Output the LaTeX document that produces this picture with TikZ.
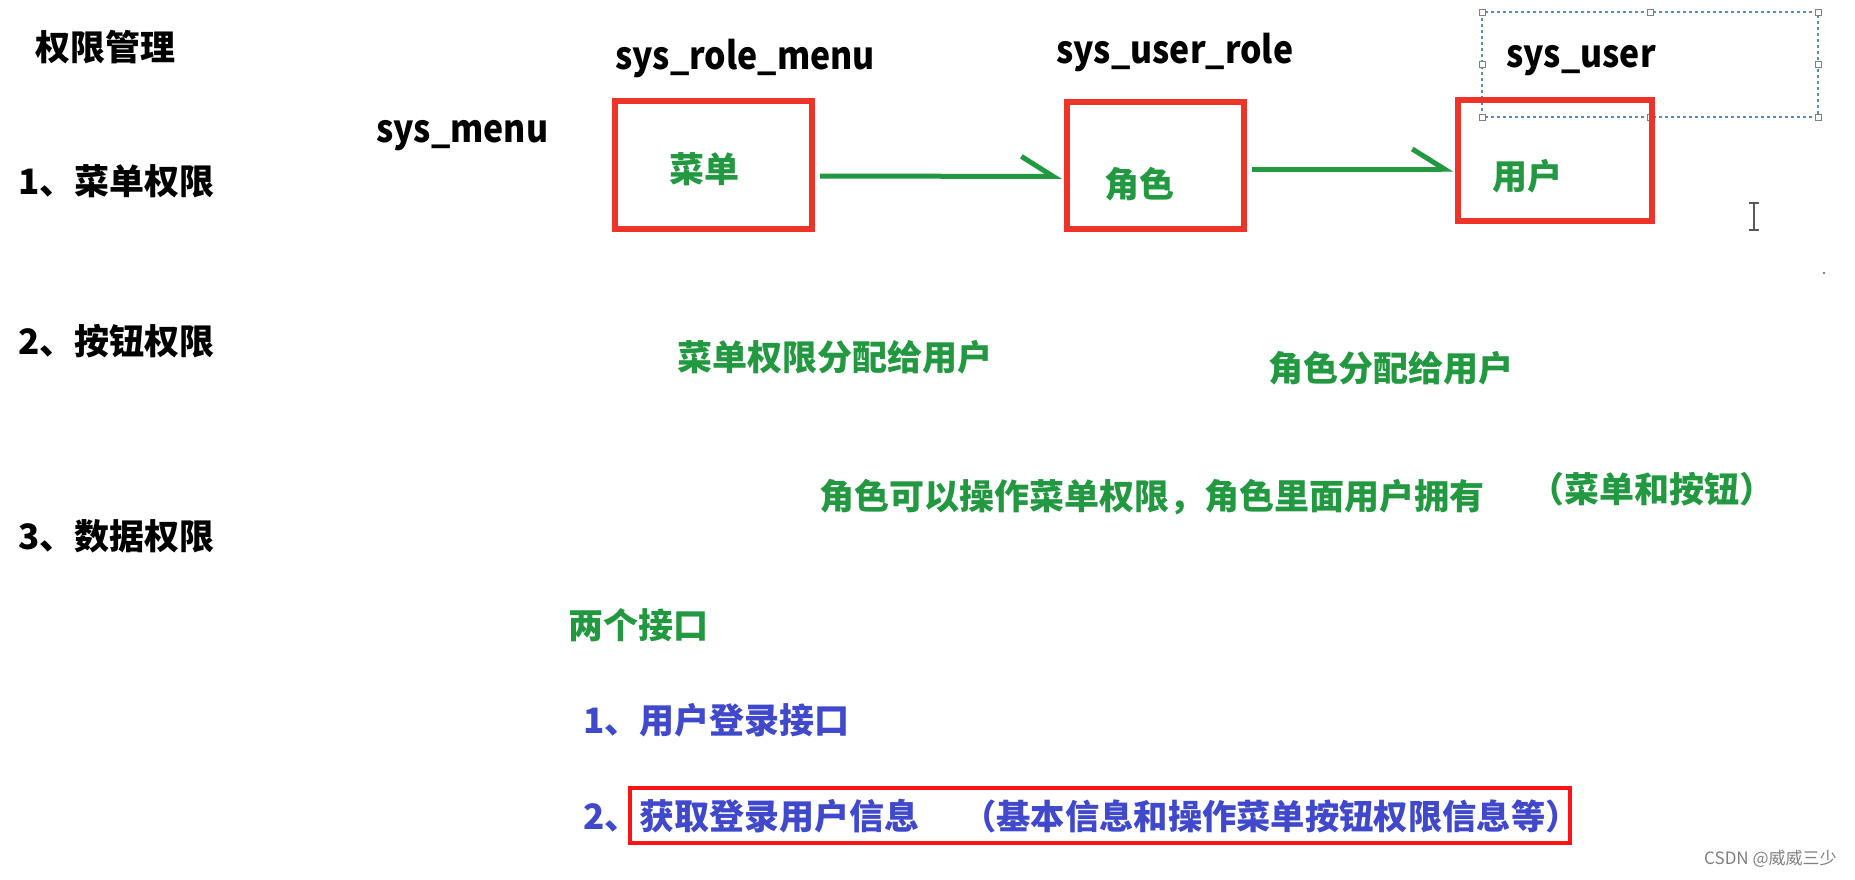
\documentclass[tikz,border=0pt]{standalone}
\usepackage{fontspec}
\setmainfont{Noto Sans CJK SC}
\newfontfamily\tblfont{Noto Sans CJK SC}[FakeStretch=0.89]
\usetikzlibrary{arrows.meta}
\definecolor{boxred}{RGB}{238,52,40}
\definecolor{hotred}{RGB}{250,20,20}
\definecolor{linkgreen}{RGB}{34,152,64}
\definecolor{textblue}{RGB}{64,72,204}
\definecolor{selblue}{RGB}{80,140,200}
\begin{document}
\begin{tikzpicture}[x=1pt,y=-1pt,
  lbl/.style={anchor=west,inner sep=0pt,font=\fontsize{35}{40}\selectfont\bfseries},
  tbl/.style={anchor=west,inner sep=0pt,font=\tblfont\fontsize{38}{44}\selectfont\bfseries},
  note/.style={lbl,text=linkgreen},
  api/.style={lbl,text=textblue},
  tablebox/.style={draw=boxred,line width=6pt,inner sep=0pt},
  flow/.style={draw=linkgreen,line width=5pt,-{Straight Barb[left,length=32pt,width=40pt]}},
  handle/.style={draw=gray,fill=white,line width=0.8pt,minimum size=6pt,inner sep=0pt}]
  \useasboundingbox[fill=white] (0,0) rectangle (1855,880);

  % left column
  \node[lbl] (title) at (35,47) {权限管理};
  \node[lbl] (menuperm) at (18,181) {1、菜单权限};
  \node[lbl] (btnperm) at (18,341) {2、按钮权限};
  \node[lbl] (dataperm) at (18,536) {3、数据权限};

  % tables
  \node[tbl] (tmenu) at (376,136) {sys\_menu};
  \node[tbl] (trolemenu) at (615,58) {sys\_role\_menu};
  \node[tbl] (tuserrole) at (1056,52) {sys\_user\_role};
  \draw[selblue,dashed,line width=1.2pt] (1482,12) rectangle (1818,117);
  \foreach \hx/\hy in {1482/12,1650/12,1818/12,1482/64,1818/64,1482/117,1650/117,1818/117}
    \node[handle] at (\hx,\hy) {};
  \node[tbl] (tuser) at (1506,61) {sys\_user};

  \node[tablebox,minimum width=197pt,minimum height=128pt] (menubox) at (713.5,165) {};
  \node[tablebox,minimum width=177pt,minimum height=127pt] (rolebox) at (1155.5,165.5) {};
  \node[tablebox,minimum width=194pt,minimum height=121pt] (userbox) at (1555,160.5) {};
  \node[note,anchor=center] (menutxt) at (704,169) {菜单};
  \node[note,anchor=center] (roletxt) at (1139,184) {角色};
  \node[note,anchor=center] (usertxt) at (1527,176) {用户};

  \draw[flow] ([xshift=5pt,yshift=-11pt]menubox.east) -- ([xshift=-2pt,yshift=-11pt]rolebox.west);
  \draw[flow] ([xshift=5pt,yshift=-3.5pt]rolebox.east) -- ([xshift=-2pt,yshift=-3.5pt]rolebox.east -| userbox.west);

  % cursor
  \draw[gray!70!black,line width=1.2pt] (1754,203) -- (1754,230)
    (1749,203) -- (1759,203) (1749,230) -- (1759,230);
  \fill[gray!70!black] (1824,273) circle (1.2pt);

  % notes
  \node[note] (assignmenu) at (677,357) {菜单权限分配给用户};
  \node[note] (assignrole) at (1268,368) {角色分配给用户};
  \node[note] (roleops) at (819,497) {角色可以操作菜单权限，角色里面用户拥有};
  \node[note] (rolekinds) at (1529,489) {（菜单和按钮）};

  % interfaces
  \node[note] (twoapi) at (568,625) {两个接口};
  \node[api] (loginapi) at (583,720) {1、用户登录接口};
  \node[api] (infoapi) at (583,816) {2、获取登录用户信息};
  \node[api,font=\fontsize{34.3}{40}\selectfont\bfseries] (infodetail) at (962,816) {（基本信息和操作菜单按钮权限信息等）};
  \draw[hotred,line width=4.5pt] (630,788) rectangle (1570,843);

  \node[anchor=west,inner sep=0pt,text=gray,font=\fontsize{17}{20}\selectfont] (mark) at (1704,859) {CSDN @威威三少};
\end{tikzpicture}
\end{document}
